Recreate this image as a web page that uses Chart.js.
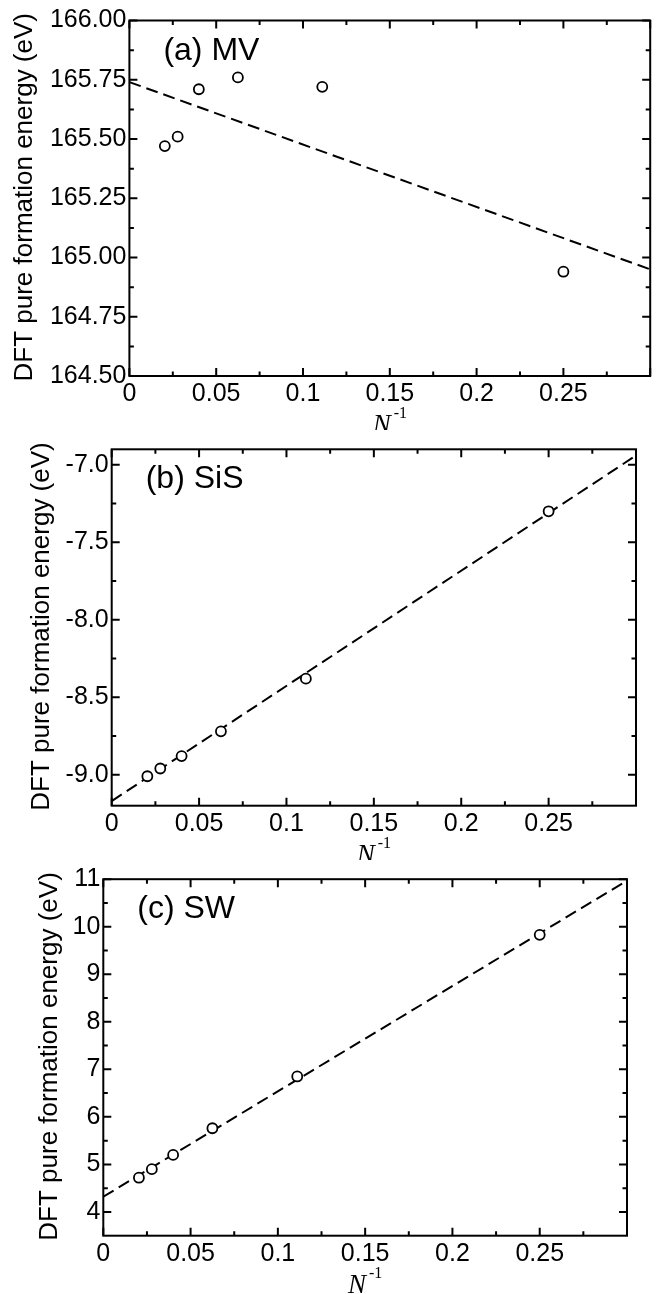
<!DOCTYPE html>
<html>
<head>
<meta charset="utf-8">
<title>DFT pure formation energy vs 1/N</title>
<script src="https://cdn.jsdelivr.net/npm/chart.js@4.4.1/dist/chart.umd.min.js"></script>
<style>
  html, body { margin: 0; padding: 0; background: #fff; }
  #page { position: relative; width: 657px; height: 1294px; }
  #page canvas { position: absolute; left: 0; }
</style>
</head>
<body>
<div id="page">
  <canvas id="mv" width="657" height="430" style="top:0px"></canvas>
  <canvas id="sis" width="657" height="430" style="top:430px"></canvas>
  <canvas id="sw" width="657" height="434" style="top:860px"></canvas>
</div>
<script>
// 1/N for the supercells (N = 49, 36, 25, 16, 9, 4)
var nInv = [0.0204, 0.0278, 0.04, 0.0625, 0.1111, 0.25];

// DFT pure formation energies (eV)
var mvEnergy  = [165.47, 165.51, 165.71, 165.76, 165.72, 164.94];
var sisEnergy = [-9.01, -8.96, -8.88, -8.72, -8.38, -7.30];
var swEnergy  = [4.72, 4.90, 5.20, 5.76, 6.85, 9.83];

// dashed linear fits: value at 1/N = 0 and at 1/N = 0.3
var fitX   = [0, 0.3];
var mvFit  = [165.74, 164.95];
var sisFit = [-9.17, -6.94];
var swFit  = [4.32, 10.97];

// ticks
var xTicks      = [0, 0.05, 0.1, 0.15, 0.2, 0.25, 0.3];
var xTickLabels = ['0', '0.05', '0.1', '0.15', '0.2', '0.25', ''];
var xMinor      = [0.025, 0.075, 0.125, 0.175, 0.225, 0.275];

var mvTicks      = [164.5, 164.75, 165, 165.25, 165.5, 165.75, 166];
var mvTickLabels = ['164.50', '164.75', '165.00', '165.25', '165.50', '165.75', '166.00'];
var mvMinor      = [164.625, 164.875, 165.125, 165.375, 165.625, 165.875];

var sisTicks      = [-9, -8.5, -8, -7.5, -7];
var sisTickLabels = ['-9.0', '-8.5', '-8.0', '-7.5', '-7.0'];
var sisMinor      = [-8.75, -8.25, -7.75, -7.25];

var swTicks      = [4, 5, 6, 7, 8, 9, 10, 11];
var swTickLabels = ['4', '5', '6', '7', '8', '9', '10', '11'];
var swMinor      = [4.5, 5.5, 6.5, 7.5, 8.5, 9.5, 10.5];

var yTitle = 'DFT pure formation energy (eV)';

var SANS = '"Liberation Sans", Arial, Helvetica, sans-serif';
var SERIF = '"Liberation Serif", "Times New Roman", serif';

function pairs(xs, ys) {
    var out = [];
    for (var i = 0; i < xs.length; i++) out.push({x: xs[i], y: ys[i]});
    return out;
}

// frame, inward ticks on all four sides, panel tag and axis titles
var framePlugin = {
    id: 'frame',
    afterDatasetsDraw: function (chart, args, opts) {
        var ctx = chart.ctx, a = chart.chartArea;
        var x = chart.scales.x, y = chart.scales.y;
        ctx.save();
        ctx.strokeStyle = '#000';
        ctx.lineWidth = 2;
        ctx.beginPath();
        function xt(vals, len) {
            vals.forEach(function (v) {
                var px = x.getPixelForValue(v);
                ctx.moveTo(px, a.bottom); ctx.lineTo(px, a.bottom - len);
                ctx.moveTo(px, a.top); ctx.lineTo(px, a.top + len);
            });
        }
        function yt(vals, len) {
            vals.forEach(function (v) {
                var py = y.getPixelForValue(v);
                ctx.moveTo(a.left, py); ctx.lineTo(a.left + len, py);
                ctx.moveTo(a.right, py); ctx.lineTo(a.right - len, py);
            });
        }
        xt(xTicks, 8); xt(xMinor, 4.5);
        yt(opts.yMajor, 8); yt(opts.yMinor, 4.5);
        ctx.stroke();
        ctx.strokeRect(a.left, a.top, a.right - a.left, a.bottom - a.top);

        ctx.fillStyle = '#000';
        ctx.textAlign = 'left';
        ctx.textBaseline = 'alphabetic';
        ctx.font = '32px ' + SANS;
        ctx.fillText(opts.tag, a.left + 34, a.top + 39);

        // x title: italic N with superscript -1
        ctx.font = 'italic 27px ' + SERIF;
        var wN = ctx.measureText('N').width;
        ctx.font = '16px ' + SERIF;
        var wS = ctx.measureText('-1').width;
        var cx = (a.left + a.right) / 2;
        var x0 = cx - (wN + 3 + wS) / 2;
        var base = a.bottom + 57;
        ctx.font = 'italic 27px ' + SERIF;
        ctx.fillText('N', x0, base);
        ctx.font = '16px ' + SERIF;
        ctx.fillText('-1', x0 + wN + 3, base - 15);

        // y title, rotated
        ctx.save();
        ctx.translate(opts.titleX, (a.top + a.bottom) / 2 - 1);
        ctx.rotate(-Math.PI / 2);
        ctx.textAlign = 'center';
        ctx.textBaseline = 'middle';
        ctx.font = '26px ' + SANS;
        ctx.fillText(yTitle, 0, 0);
        ctx.restore();
        ctx.restore();
    }
};

function makePanel(id, energy, fit, yMin, yMax, yTicks, yLabels, yMinor, tag, box) {
    var tickFont = {family: SANS, size: 25};
    return new Chart(document.getElementById(id).getContext('2d'), {
        type: 'scatter',
        data: {
            datasets: [
                {
                    data: pairs(nInv, energy),
                    showLine: false,
                    pointRadius: 5,
                    pointBorderWidth: 1.8,
                    pointBorderColor: '#000',
                    pointBackgroundColor: '#fff',
                    order: 0
                },
                {
                    data: pairs(fitX, fit),
                    showLine: true,
                    fill: false,
                    borderColor: '#000',
                    borderWidth: 2,
                    borderDash: [12, 6],
                    pointRadius: 0,
                    order: 1
                }
            ]
        },
        options: {
            responsive: false,
            animation: false,
            layout: {padding: {left: 0, right: box.right, top: box.top, bottom: 0}},
            plugins: {
                legend: {display: false},
                tooltip: {enabled: false},
                frame: {tag: tag, yMajor: yTicks, yMinor: yMinor, titleX: box.titleX}
            },
            scales: {
                x: {
                    type: 'linear',
                    min: 0, max: 0.3,
                    grid: {display: false, drawTicks: false},
                    border: {display: false},
                    afterBuildTicks: function (s) { s.ticks = xTicks.map(function (v) { return {value: v}; }); },
                    afterFit: function (s) { s.height = box.xHeight; },
                    ticks: {
                        autoSkip: false, maxRotation: 0, padding: 3, color: '#000', font: tickFont,
                        callback: function (v, i) { return xTickLabels[i]; }
                    }
                },
                y: {
                    type: 'linear',
                    min: yMin, max: yMax,
                    grid: {display: false, drawTicks: false},
                    border: {display: false},
                    afterBuildTicks: function (s) { s.ticks = yTicks.map(function (v) { return {value: v}; }); },
                    afterFit: function (s) { s.width = box.left; },
                    ticks: {
                        autoSkip: false, padding: 3, color: '#000', font: tickFont,
                        callback: function (v, i) { return yLabels[i]; }
                    },
                    title: {display: false}
                }
            }
        },
        plugins: [framePlugin]
    });
}

makePanel('mv', mvEnergy, mvFit, 164.5, 166.0, mvTicks, mvTickLabels, mvMinor, '(a) MV',
    {left: 129.4, right: 4, top: 20.5, xHeight: 54, titleX: 25});
makePanel('sis', sisEnergy, sisFit, -9.2, -6.9, sisTicks, sisTickLabels, sisMinor, '(b) SiS',
    {left: 111.7, right: 21, top: 19.3, xHeight: 54.3, titleX: 41.7});
makePanel('sw', swEnergy, swFit, 3.5, 11, swTicks, swTickLabels, swMinor, '(c) SW',
    {left: 103.3, right: 30, top: 19.2, xHeight: 58.3, titleX: 50});
</script>
</body>
</html>
